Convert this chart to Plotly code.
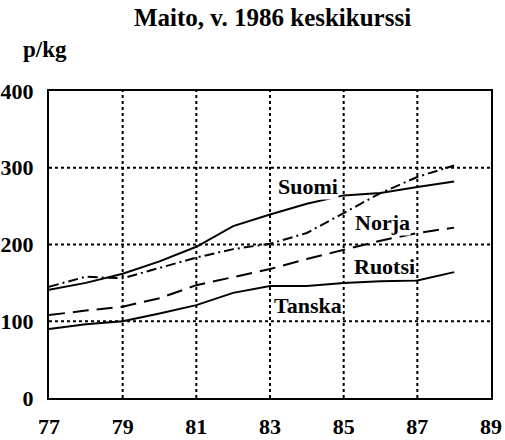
import plotly.graph_objects as go

years = [77, 78, 79, 80, 81, 82, 83, 84, 85, 86, 87, 88]
suomi = [141, 150, 162, 178, 197, 224, 239, 253, 264, 267, 275, 282]
norja = [145, 158, 156, 170, 183, 194, 201, 215, 241, 267, 288, 303]
ruotsi = [108, 114, 119, 130, 147, 157, 168, 181, 193, 205, 215, 222]
tanska = [90, 96, 100, 110, 121, 137, 146, 146, 150, 152, 153, 164]

x_ticks = [77, 79, 81, 83, 85, 87, 89]
y_ticks = [0, 100, 200, 300, 400]
grid_x = [79, 81, 83, 85, 87]
grid_y = [100, 200, 300]

title = "Maito, v. 1986 keskikurssi"
unit = "p/kg"

labels = [("Suomi", 84.03, 275), ("Norja", 86.05, 229), ("Ruotsi", 86.1, 171), ("Tanska", 84.03, 121)]

FONT = "Liberation Serif"

fig = go.Figure()

series = [
    ("Suomi", suomi, "solid"),
    ("Norja", norja, "10px,4px,2px,4px"),
    ("Ruotsi", ruotsi, "16px,8px"),
    ("Tanska", tanska, "solid"),
]
for name, vals, dash in series:
    fig.add_trace(go.Scatter(x=years, y=vals, mode="lines", name=name,
                             line=dict(color="black", width=2, dash=dash),
                             showlegend=False, hoverinfo="skip"))

shapes = []
for gx in grid_x:
    shapes.append(dict(type="line", xref="x", yref="y", x0=gx, x1=gx, y0=0, y1=400,
                       line=dict(color="black", width=2, dash="3px,3px"), layer="below"))
for gy in grid_y:
    shapes.append(dict(type="line", xref="x", yref="y", x0=77, x1=89, y0=gy, y1=gy,
                       line=dict(color="black", width=2, dash="3px,3px"), layer="below"))

annotations = []
for text, lx, ly in labels:
    annotations.append(dict(x=lx, y=ly, xref="x", yref="y", text="<b>%s</b>" % text,
                            showarrow=False, font=dict(family=FONT, size=22, color="black"),
                            bgcolor="white", borderpad=0))
annotations.append(dict(x=272, y=18, xref="paper", yref="paper", text="<b>%s</b>" % title,
                        showarrow=False, font=dict(family=FONT, size=25, color="black")))
annotations.append(dict(x=21, y=50, xref="paper", yref="paper", text="<b>%s</b>" % unit,
                        showarrow=False, xanchor="left", font=dict(family=FONT, size=23, color="black")))
# convert pixel positions to paper coords
W, H = 505, 440
ml, mr, mt, mb = 49, 14, 91, 42
pw, ph = W - ml - mr, H - mt - mb
for a in annotations[-2:]:
    px, py = a["x"], a["y"]
    a["x"] = (px - ml) / pw
    a["y"] = 1 - (py - mt) / ph
    a["yanchor"] = "middle"

fig.update_layout(
    width=W, height=H,
    margin=dict(l=ml, r=mr, t=mt, b=mb, pad=0, autoexpand=False),
    paper_bgcolor="white", plot_bgcolor="white",
    shapes=shapes, annotations=annotations,
    font=dict(family=FONT, color="black"),
)
fig.update_xaxes(range=[77, 89], tickvals=x_ticks, ticktext=["<b>%d</b>" % v for v in x_ticks],
                 showgrid=False, zeroline=False, showline=True, linecolor="black", linewidth=2,
                 mirror=True, ticks="", tickfont=dict(family=FONT, size=22, color="black"),
                 ticklabelstandoff=8, automargin=False)
fig.update_yaxes(range=[0, 400], tickvals=y_ticks, ticktext=["<b>%d</b>" % v for v in y_ticks],
                 showgrid=False, zeroline=False, showline=True, linecolor="black", linewidth=2,
                 mirror=True, ticks="", tickfont=dict(family=FONT, size=22, color="black"),
                 ticklabelstandoff=9, automargin=False)

fig.write_html("out.html", config={"displayModeBar": False},
               post_script="document.body.style.margin='0';document.body.style.overflow='hidden';")
